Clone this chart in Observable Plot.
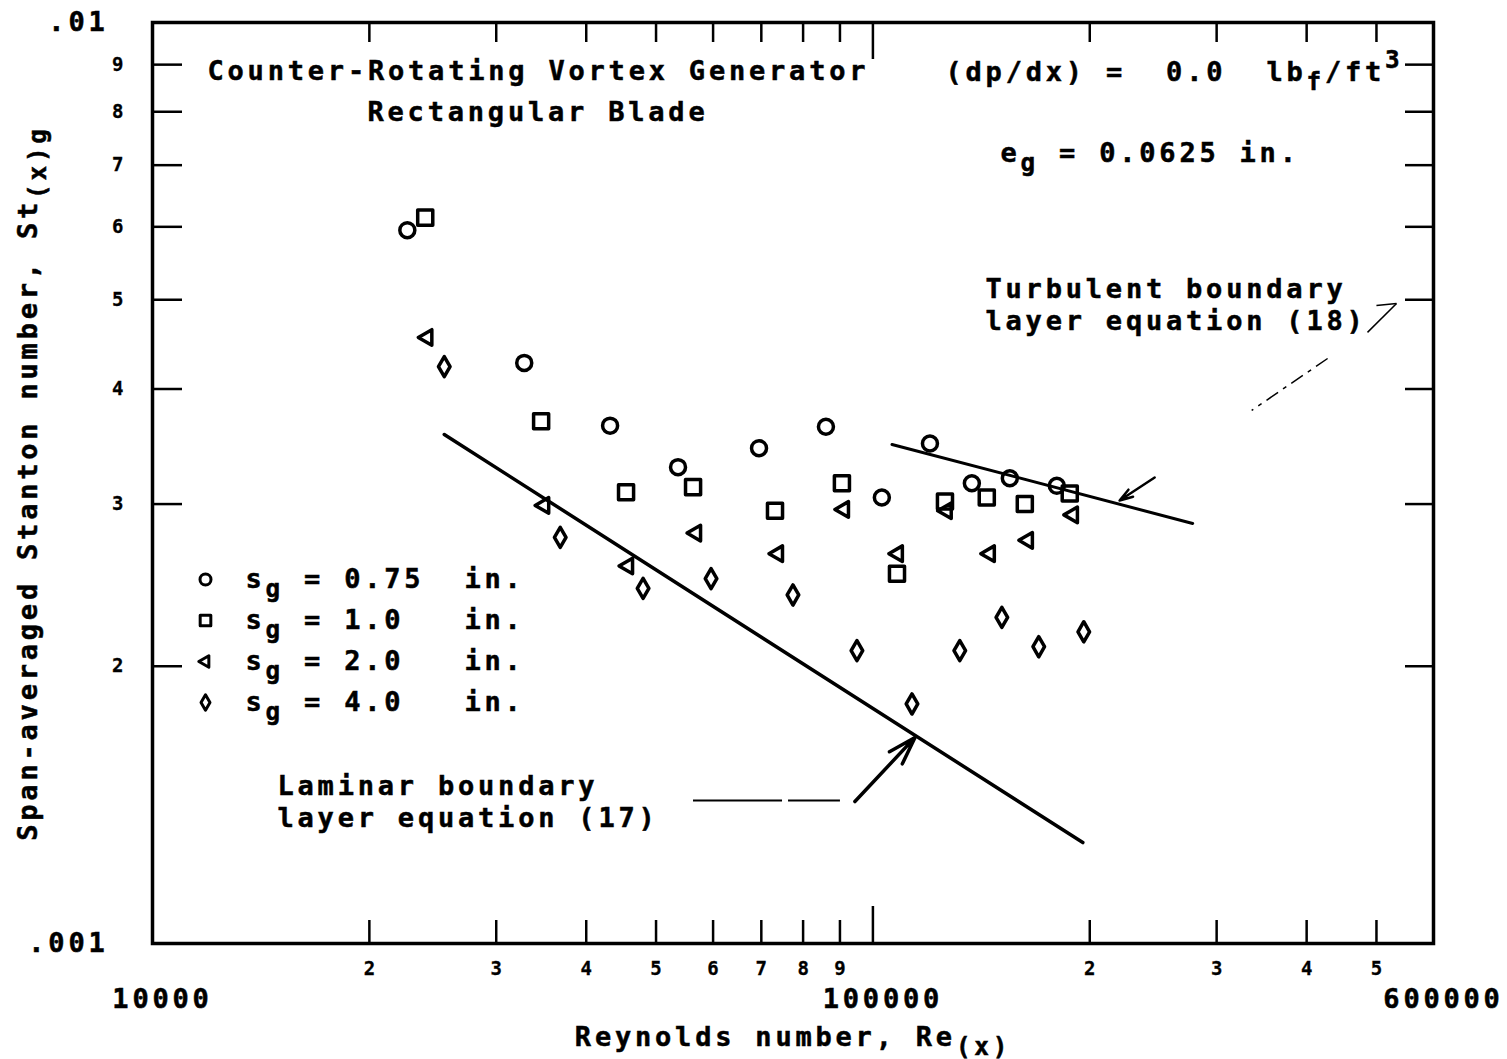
<!DOCTYPE html>
<html><head><meta charset="utf-8">
<script src="https://cdn.jsdelivr.net/npm/d3@7"></script>
<script src="https://cdn.jsdelivr.net/npm/@observablehq/plot@0.6"></script>
<style>
html,body{margin:0;padding:0;background:#fff;}
#chart svg{display:block;}
</style></head>
<body><div id="chart"></div>
<script>
// ---- Data (Reynolds number Re(x), span-averaged Stanton number St(x)g) ----
const reCircle   = [22580, 32810, 43170, 53640, 69490, 86060, 102900, 120000, 137200, 154900, 180000];
const stCircle   = [0.00595, 0.00427, 0.00365, 0.00329, 0.00345, 0.00364, 0.00305, 0.00349, 0.00316, 0.00320, 0.00314];
const reSquare   = [23910, 34630, 45430, 56280, 73130, 90570, 108000, 125900, 143900, 162500, 187600];
const stSquare   = [0.00614, 0.00369, 0.00309, 0.00313, 0.00295, 0.00316, 0.00252, 0.00302, 0.00305, 0.00300, 0.00308];
const reTriangle = [24070, 34970, 45720, 56820, 73830, 91160, 108300, 126600, 145300, 164100, 189500];
const stTriangle = [0.00455, 0.00299, 0.00257, 0.00279, 0.00265, 0.00296, 0.00265, 0.00295, 0.00265, 0.00274, 0.00292];
const reDiamond  = [25410, 36810, 47970, 59610, 77450, 95020, 113300, 132000, 151000, 169900, 196200];
const stDiamond  = [0.00423, 0.00276, 0.00243, 0.00249, 0.00239, 0.00208, 0.00182, 0.00208, 0.00226, 0.00210, 0.00218];

// Correlation lines
const reLaminar   = [25410, 195600];
const stLaminar   = [0.00357, 0.001287];
const reTurbulent = [106300, 277900];
const stTurbulent = [0.003482, 0.002858];

// Leader lines (annotation segments, data space)
const lamLeaderLines = [
  {x1: 56270, y1: 0.00143, x2: 74790, y2: 0.00143},
  {x1: 76240, y1: 0.00143, x2: 90000, y2: 0.00143}
];
const lamLeaderArrow = [{x1: 94410, y1: 0.001426, x2: 114400, y2: 0.001674}];
const turbLeaderLines = [
  {x1: 500000, y1: 0.004929, x2: 533100, y2: 0.004954},
  {x1: 533100, y1: 0.004954, x2: 485900, y2: 0.004608}
];
const turbLeaderDash = [{x1: 427700, y1: 0.004317, x2: 335500, y2: 0.003791}];
const turbLeaderArrow = [{x1: 246100, y1: 0.003206, x2: 220000, y2: 0.003027}];

// Ticks
const xMinorTicks = [20000, 30000, 40000, 50000, 60000, 70000, 80000, 90000, 200000, 300000, 400000, 500000];
const xMinorLabels = ["2", "3", "4", "5", "6", "7", "8", "9", "2", "3", "4", "5"];
const xMajorTicks = [100000];
const xMajorLabelValues = [10000, 100000, 600000];
const xMajorLabels = ["10000", "100000", "600000"];
const yMinorTicks = [0.002, 0.003, 0.004, 0.005, 0.006, 0.007, 0.008, 0.009];
const yMinorLabels = ["2", "3", "4", "5", "6", "7", "8", "9"];
const yMajorLabelValues = [0.01, 0.001];
const yMajorLabels = [".01", ".001"];

const legendNames = ["s_{g} = 0.75  in.", "s_{g} = 1.0   in.", "s_{g} = 2.0   in.", "s_{g} = 4.0   in."];

// ---- Layout ----
const W = 1507, H = 1059;
const mL = 152, mR = 74, mT = 22, mB = 116;
const frameW = W - mL - mR, frameH = H - mT - mB;
const FONT = "'DejaVu Sans Mono', 'Liberation Mono', monospace";
const FS = 27, FS_SMALL = 19;

const pts = (re, st) => re.map((x, i) => ({x, y: st[i]}));

// left-pointing triangle symbol
const triLeft = {
  draw(ctx, size) {
    const a = Math.sqrt(size / (3 * Math.sqrt(3)));
    ctx.moveTo(-2 * a, 0);
    ctx.lineTo(a, -Math.sqrt(3) * a);
    ctx.lineTo(a, Math.sqrt(3) * a);
    ctx.closePath();
  }
};

const series = [
  {data: pts(reCircle, stCircle), symbol: "circle", r: 7.5, lr: 5.5},
  {data: pts(reSquare, stSquare), symbol: "square", r: 8.5, lr: 6},
  {data: pts(reTriangle, stTriangle), symbol: triLeft, r: 5.8, lr: 4.3},
  {data: pts(reDiamond, stDiamond), symbol: "diamond", r: 6.1, lr: 4.7}
];

const lbl = (text, dx, dy, o = {}) => Plot.text([text], {
  text: d => d, frameAnchor: "top-left", dx, dy,
  textAnchor: "start", lineAnchor: "middle", fontSize: FS, fill: "black", ...o
});

const marks = [
  Plot.frame({stroke: "black", strokeWidth: 3.5}),
  // x ticks (inside, bottom and top)
  Plot.ruleX(xMinorTicks, {x: d => d, insetTop: frameH - 23, stroke: "black", strokeWidth: 2.5}),
  Plot.ruleX(xMinorTicks, {x: d => d, insetBottom: frameH - 20, stroke: "black", strokeWidth: 2.5}),
  Plot.ruleX(xMajorTicks, {x: d => d, insetTop: frameH - 37, stroke: "black", strokeWidth: 2.5}),
  Plot.ruleX(xMajorTicks, {x: d => d, insetBottom: frameH - 37, stroke: "black", strokeWidth: 2.5}),
  // y ticks (inside, left and right)
  Plot.ruleY(yMinorTicks, {y: d => d, insetRight: frameW - 30, stroke: "black", strokeWidth: 2.5}),
  Plot.ruleY(yMinorTicks, {y: d => d, insetLeft: frameW - 28, stroke: "black", strokeWidth: 2.5}),
  // tick labels
  Plot.text(xMinorTicks, {x: d => d, text: (d, i) => xMinorLabels[i], frameAnchor: "bottom", dy: 25, fontSize: FS_SMALL, textAnchor: "middle", lineAnchor: "middle"}),
  Plot.text(xMajorLabelValues, {x: d => d, text: (d, i) => xMajorLabels[i], frameAnchor: "bottom", dy: 56, dx: 10, fontSize: FS, textAnchor: "middle", lineAnchor: "middle"}),
  Plot.text(yMinorTicks, {y: d => d, text: (d, i) => yMinorLabels[i], frameAnchor: "left", dx: -29, textAnchor: "end", fontSize: FS_SMALL, lineAnchor: "middle"}),
  Plot.text(yMajorLabelValues, {y: d => d, text: (d, i) => yMajorLabels[i], frameAnchor: "left", dx: -44, textAnchor: "end", fontSize: FS, lineAnchor: "middle"}),
  // axis titles
  Plot.text(["Reynolds number, Re_{(x)}"], {text: d => d, frameAnchor: "bottom", dy: 94, fontSize: FS, textAnchor: "middle", lineAnchor: "middle"}),
  Plot.text(["Span-averaged Stanton number, St_{(x)g}"], {text: d => d, frameAnchor: "left", dx: -124, rotate: -90, fontSize: FS, textAnchor: "middle", lineAnchor: "middle"}),
  // correlation lines
  Plot.line(pts(reLaminar, stLaminar), {x: "x", y: "y", stroke: "black", strokeWidth: 3.5}),
  Plot.line(pts(reTurbulent, stTurbulent), {x: "x", y: "y", stroke: "black", strokeWidth: 3}),
  // leaders
  Plot.link(lamLeaderLines, {x1: "x1", y1: "y1", x2: "x2", y2: "y2", stroke: "black", strokeWidth: 2}),
  Plot.arrow(lamLeaderArrow, {x1: "x1", y1: "y1", x2: "x2", y2: "y2", stroke: "black", strokeWidth: 3.5, headLength: 14, headAngle: 35}),
  Plot.link(turbLeaderLines, {x1: "x1", y1: "y1", x2: "x2", y2: "y2", stroke: "black", strokeWidth: 1.5}),
  Plot.link(turbLeaderDash, {x1: "x1", y1: "y1", x2: "x2", y2: "y2", stroke: "black", strokeWidth: 1.5, strokeDasharray: "14,6,4,6"}),
  Plot.arrow(turbLeaderArrow, {x1: "x1", y1: "y1", x2: "x2", y2: "y2", stroke: "black", strokeWidth: 2.5, headLength: 12, headAngle: 35}),
  // annotation text
  lbl("Counter-Rotating Vortex Generator", 55, 49),
  lbl("Rectangular Blade", 215, 90),
  lbl("(dp/dx) =  0.0  lb_{f}/ft^{3}", 793, 50),
  lbl("e_{g} = 0.0625 in.", 848, 131),
  lbl("Turbulent boundary", 833, 267),
  lbl("layer equation (18)", 833, 299),
  lbl("Laminar boundary", 125, 764),
  lbl("layer equation (17)", 125, 796),
];

// data points
for (const s of series) {
  marks.push(Plot.dot(s.data, {x: "x", y: "y", symbol: s.symbol, r: s.r, stroke: "black", fill: "none", strokeWidth: 3.5, strokeLinejoin: "round"}));
}
// legend
series.forEach((s, i) => {
  const dy = 557 + i * 41;
  marks.push(Plot.dot([0], {frameAnchor: "top-left", dx: 53, dy, symbol: s.symbol, r: s.lr, stroke: "black", fill: "none", strokeWidth: 3, strokeLinejoin: "round"}));
  marks.push(lbl(legendNames[i], 93, dy));
});

const chart = Plot.plot({
  width: W, height: H,
  marginLeft: mL, marginRight: mR, marginTop: mT, marginBottom: mB,
  x: {type: "log", domain: [10000, 600000], axis: null},
  y: {type: "log", domain: [0.001, 0.01], axis: null},
  style: {fontFamily: FONT, fontWeight: "bold", background: "white", color: "black", overflow: "visible"},
  marks
});
document.getElementById("chart").appendChild(chart);

// Post-process: letter spacing, whitespace, sub/superscripts
const SVGNS = "http://www.w3.org/2000/svg";
chart.querySelectorAll("text").forEach(t => {
  const fs = parseFloat(getComputedStyle(t).fontSize);
  t.style.whiteSpace = "pre";
  t.style.letterSpacing = fs >= 22 ? "3.8px" : "0px";
  t.style.stroke = "black";
  t.style.strokeWidth = fs >= 22 ? "0.5px" : "0.3px";
  const s = t.textContent;
  if (!/[_^]\{/.test(s)) return;
  while (t.firstChild) t.removeChild(t.firstChild);
  const add = (str, dyPx, size) => {
    const ts = document.createElementNS(SVGNS, "tspan");
    if (dyPx) ts.setAttribute("dy", dyPx.toFixed(2));
    if (size) ts.setAttribute("font-size", size);
    ts.textContent = str;
    t.appendChild(ts);
  };
  const re = /([_^])\{([^}]*)\}/g;
  let last = 0, m, offset = 0;
  while ((m = re.exec(s))) {
    if (m.index > last) { add(s.slice(last, m.index), -offset); offset = 0; }
    const d = m[1] === "_" ? 0.32 * fs : -0.5 * fs;
    add(m[2], d - offset, fs * 0.9);
    offset = d;
    last = re.lastIndex;
  }
  if (last < s.length) add(s.slice(last), -offset);
});
</script>
</body></html>
